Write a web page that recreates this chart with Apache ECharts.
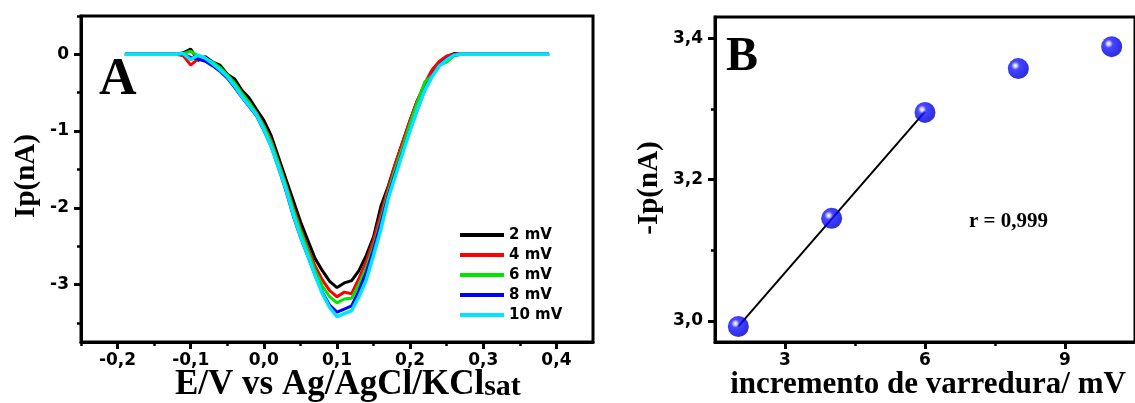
<!DOCTYPE html>
<html>
<head>
<meta charset="utf-8">
<script src="https://cdn.jsdelivr.net/npm/echarts@6/dist/echarts.min.js"></script>
<style>html,body{margin:0;padding:0;background:#fff}#c{width:1135px;height:403px}</style>
</head>
<body>
<div id="c"></div>
<script>
// Panel A data: potential (V) and current (nA) per step increment
const potentials = [-0.19,-0.12,-0.11,-0.10,-0.09,-0.08,-0.07,-0.06,-0.05,-0.04,-0.03,-0.02,-0.01,0.00,0.01,0.02,0.03,0.04,0.05,0.06,0.07,0.08,0.09,0.10,0.11,0.12,0.13,0.14,0.15,0.16,0.17,0.18,0.19,0.20,0.21,0.22,0.23,0.24,0.25,0.26,0.27,0.39];
const seriesNames = ['2 mV','4 mV','6 mV','8 mV','10 mV'];
const seriesColors = ['#000000','#ff0000','#00e600','#0000ff','#00e5ff'];
const current2 = [0,0,0.02,0.07,-0.08,-0.03,-0.10,-0.14,-0.26,-0.32,-0.47,-0.57,-0.72,-0.86,-1.06,-1.34,-1.62,-1.90,-2.18,-2.42,-2.66,-2.82,-2.96,-3.04,-2.98,-2.95,-2.82,-2.62,-2.38,-1.98,-1.72,-1.42,-1.14,-0.86,-0.60,-0.40,-0.22,-0.10,-0.03,0.01,0,0];
const current4 = [0,0,-0.02,-0.14,-0.06,-0.08,-0.13,-0.18,-0.27,-0.37,-0.50,-0.62,-0.76,-0.92,-1.12,-1.40,-1.68,-1.98,-2.26,-2.52,-2.76,-2.94,-3.08,-3.16,-3.10,-3.12,-2.92,-2.70,-2.42,-2.08,-1.74,-1.42,-1.14,-0.86,-0.60,-0.38,-0.20,-0.09,-0.02,0,0,0];
const current6 = [0,0,0.01,0.04,-0.02,-0.06,-0.10,-0.17,-0.27,-0.37,-0.51,-0.63,-0.77,-0.94,-1.15,-1.42,-1.71,-2.02,-2.30,-2.56,-2.82,-3.02,-3.16,-3.24,-3.19,-3.18,-3.00,-2.78,-2.50,-2.16,-1.80,-1.48,-1.20,-0.90,-0.62,-0.36,-0.28,-0.14,-0.10,-0.02,0,0];
const current8 = [0,0,0,-0.04,-0.06,-0.09,-0.15,-0.22,-0.31,-0.43,-0.56,-0.68,-0.80,-0.99,-1.20,-1.48,-1.77,-2.10,-2.38,-2.63,-2.88,-3.10,-3.27,-3.36,-3.32,-3.28,-3.08,-2.84,-2.54,-2.20,-1.84,-1.54,-1.26,-0.98,-0.72,-0.46,-0.28,-0.14,-0.06,-0.01,0,0];
const current10 = [0,0,0.01,-0.07,-0.01,-0.05,-0.12,-0.20,-0.29,-0.41,-0.55,-0.67,-0.79,-0.98,-1.20,-1.47,-1.75,-2.08,-2.37,-2.62,-2.88,-3.12,-3.30,-3.42,-3.38,-3.34,-3.16,-2.94,-2.62,-2.28,-1.88,-1.58,-1.28,-0.99,-0.71,-0.47,-0.29,-0.15,-0.07,-0.01,0,0];
const currents = [current2,current4,current6,current8,current10];
const xTicksA = [-0.2,-0.1,0,0.1,0.2,0.3,0.4];
const xMinorA = [-0.25,-0.15,-0.05,0.05,0.15,0.25,0.35];
const yTicksA = [0,-1,-2,-3];
const yMinorA = [0.5,-0.5,-1.5,-2.5,-3.5];

// Panel B data
const increments = [2,4,6,8,10];
const peakCurrent = [2.992,3.145,3.295,3.357,3.388];
const fitX = [2,6];
const fitY = [2.992,3.296];
const xTicksB = [3,6,9];
const xMinorB = [4.5,7.5];
const yTicksB = [3.0,3.2,3.4];
const yMinorB = [3.1,3.3];

const fmt = v => {
  const r = Math.round(v*10)/10;
  return (Math.abs(r) < 1e-9 ? '0,0' : r.toFixed(1).replace('.', ','));
};
const tickFont = {fontFamily:'DejaVu Sans', fontWeight:'bold', fontSize:17, color:'#000'};
const serif = 'Liberation Serif';

const chart = echarts.init(document.getElementById('c'));
const axLine = {show:true, onZero:false, lineStyle:{color:'#000', width:3}};
function majorAxis(extra){ return Object.assign({
  axisLine: axLine, splitLine:{show:false},
}, extra); }
function minorAxis(extra){ return Object.assign({
  axisLine:{show:false, onZero:false}, splitLine:{show:false}, axisLabel:{show:false},
}, extra); }
const majTick = vals => ({show:true, inside:false, length:7, lineStyle:{width:3,color:'#000'}, customValues:vals});
const minTick = vals => ({show:true, inside:false, length:4, lineStyle:{width:2.5,color:'#000'}, customValues:vals});

const option = {
  animation:false,
  grid:[
    {left:81, top:16, right:542, bottom:61, show:true, borderColor:'#000', borderWidth:3},
    {left:715, top:17, right:-9, bottom:61, show:true, borderColor:'#000', borderWidth:3}
  ],
  legend:{
    data:seriesNames, orient:'vertical', left:455, top:222,
    icon:'rect', itemWidth:44, itemHeight:4, itemGap:4,
    textStyle:{fontFamily:'DejaVu Sans', fontWeight:'bold', fontSize:15, color:'#000', lineHeight:16}
  },
  xAxis:[
    majorAxis({gridIndex:0, type:'value', min:-0.25, max:0.45, position:'bottom',
      axisLabel:{...tickFont, margin:10, customValues:xTicksA, formatter:fmt}, axisTick:majTick(xTicksA)}),
    minorAxis({gridIndex:0, type:'value', min:-0.25, max:0.45, position:'bottom', axisTick:minTick(xMinorA)}),
    majorAxis({gridIndex:1, type:'value', min:1.5, max:10.5, position:'bottom',
      axisLabel:{...tickFont, margin:10, customValues:xTicksB, formatter:v=>String(Math.round(v))}, axisTick:majTick(xTicksB)}),
    minorAxis({gridIndex:1, type:'value', min:1.5, max:10.5, position:'bottom', axisTick:minTick(xMinorB)})
  ],
  yAxis:[
    majorAxis({gridIndex:0, type:'value', min:-3.75, max:0.5, position:'left',
      axisLabel:{...tickFont, margin:12, customValues:yTicksA, formatter:v=>String(Math.round(v))}, axisTick:majTick(yTicksA)}),
    minorAxis({gridIndex:0, type:'value', min:-3.75, max:0.5, position:'left', axisTick:minTick(yMinorA)}),
    majorAxis({gridIndex:1, type:'value', min:2.97, max:3.43, position:'left',
      axisLabel:{...tickFont, margin:12, customValues:yTicksB, formatter:fmt}, axisTick:majTick(yTicksB)}),
    minorAxis({gridIndex:1, type:'value', min:2.97, max:3.43, position:'left', axisTick:minTick(yMinorB)})
  ],
  series:[
    ...currents.map((arr,i)=>({
      name:seriesNames[i], type:'line', xAxisIndex:0, yAxisIndex:0,
      data:potentials.map((e,j)=>[e,arr[j]]), showSymbol:false, symbol:'none',
      color:seriesColors[i], lineStyle:{color:seriesColors[i], width: i===4 ? 3.5 : 3}, z:2+i
    })),
    {name:'fit', type:'line', xAxisIndex:2, yAxisIndex:2, data:fitX.map((x,i)=>[x,fitY[i]]),
      symbol:'none', lineStyle:{color:'#000', width:2}, z:3},
    {name:'pts', type:'scatter', xAxisIndex:2, yAxisIndex:2, data:increments.map((x,i)=>[x,peakCurrent[i]]),
      symbolSize:21, z:5,
      itemStyle:{color:new echarts.graphic.RadialGradient(0.36,0.36,0.62,[
        {offset:0,color:'#ffffff'},{offset:0.12,color:'#c8c8ff'},{offset:0.32,color:'#1a1aff'},{offset:0.8,color:'#0000f0'},{offset:1,color:'#0000c0'}])}}
  ],
  graphic:[
    {type:'text', left:99, top:55, style:{text:'A', font:'bold 52px "Liberation Serif"', fill:'#000'}},
    {type:'text', left:726, top:34, style:{text:'B', font:'bold 48px "Liberation Serif"', fill:'#000'}},
    {type:'text', x:969, y:211, style:{text:'r = 0,999', font:'bold 21px "Liberation Serif"', fill:'#000'}},
    {type:'text', x:27, y:176, rotation:Math.PI/2, style:{text:'Ip(nA)', font:'bold 29px "Liberation Serif"', fill:'#000', align:'center', verticalAlign:'middle'}},
    {type:'text', x:650, y:188, rotation:Math.PI/2, style:{text:'-Ip(nA)', font:'bold 29px "Liberation Serif"', fill:'#000', align:'center', verticalAlign:'middle'}},
    {type:'text', x:175, y:362, style:{text:'{m|E/V vs Ag/AgCl/KCl}{s|sat}', fill:'#000',
      rich:{m:{fontFamily:serif, fontWeight:'bold', fontSize:35, fill:'#000', verticalAlign:'bottom'}, s:{fontFamily:serif, fontWeight:'bold', fontSize:30, fill:'#000', padding:[10,0,0,0], verticalAlign:'bottom'}}}},
    {type:'text', x:928, y:385, style:{text:'incremento de varredura/ mV', font:'bold 31px "Liberation Serif"', fill:'#000', align:'center', verticalAlign:'middle'}}
  ]
};
chart.setOption(option);
</script>
</body>
</html>
